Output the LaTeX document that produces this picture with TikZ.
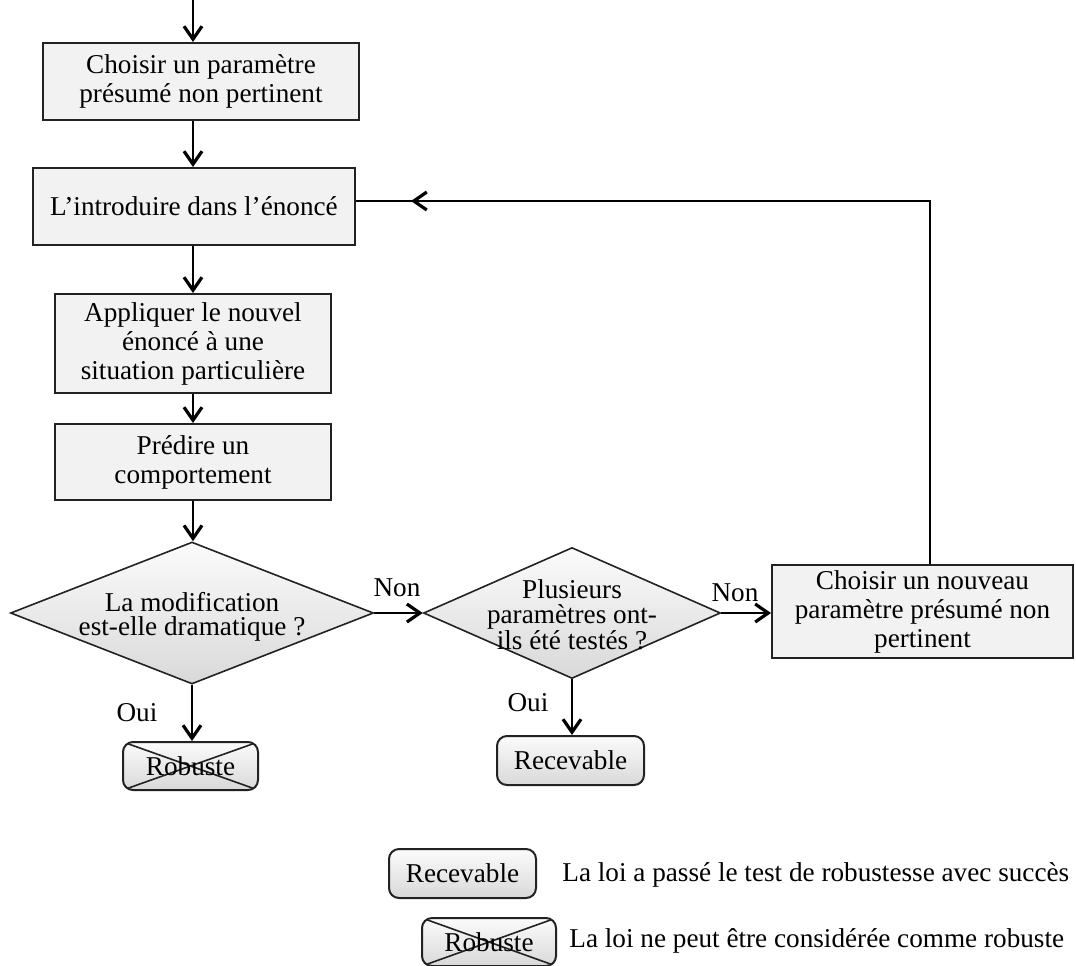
\documentclass[tikz,border=0pt]{standalone}
\usepackage{fontspec}
\setmainfont{Liberation Serif}
\usetikzlibrary{arrows.meta,shapes.geometric}
\definecolor{boite}{HTML}{F2F2F2}
\definecolor{trait}{HTML}{222222}
\newcommand{\txtbox}{\fontsize{13.6}{14.5}\selectfont}
\newcommand{\txtdia}{\fontsize{13.6}{12.3}\selectfont}
\tikzset{
  etape/.style={draw=trait,line width=1pt,fill=boite,align=center,inner sep=0pt},
  test/.style={diamond,draw=trait,line width=0.8pt,top color=gray!3,bottom color=gray!30,inner sep=0pt},
  issue/.style={draw=trait,line width=1pt,rounded corners=5pt,top color=gray!3,bottom color=gray!30,inner sep=0pt},
  % cross drawn corner to corner over the box
  barre/.style={path picture={%
    \draw[line width=0.8pt] (path picture bounding box.north west)--(path picture bounding box.south east)
      (path picture bounding box.south west)--(path picture bounding box.north east);}},
  fleche/.style={line width=0.8pt,-{Straight Barb[length=6.5pt,width=9pt,line width=1.6pt]}},
  ligne/.style={line width=0.8pt},
  note/.style={inner sep=0pt}
}

\begin{document}
\begin{tikzpicture}[x=0.5pt,y=-0.5pt,font=\txtbox]
  \useasboundingbox (0,0) rectangle (1076,965);
  \coordinate (depart) at (193,0);
  \node[etape,minimum width=158pt,minimum height=38.5pt] (choix) at (201,81.5)
    {Choisir un paramètre\\présumé non pertinent};
  \node[etape,minimum width=161pt,minimum height=38.5pt] (intro) at (194,206.5)
    {L’introduire dans l’énoncé};
  \node[etape,minimum width=138pt,minimum height=49.5pt] (appli) at (193,343.5)
    {Appliquer le nouvel\\énoncé à une\\situation particulière};
  \node[etape,minimum width=138pt,minimum height=38pt] (predire) at (193,462)
    {Prédire un\\comportement};
  \node[test,minimum width=181.5pt,minimum height=71pt,
    label={[align=center,font=\txtdia,yshift=-2pt]center:La modification\\est-elle dramatique ?}] (modif) at (192,613) {};
  \node[test,minimum width=148.5pt,minimum height=65.5pt,
    label={[align=center,font=\txtdia,yshift=-1pt]center:Plusieurs\\paramètres ont-\\ils été testés ?}] (plusieurs) at (572,613) {};
  \node[etape,minimum width=150.5pt,minimum height=46.5pt] (nouveau) at (922.5,611.5)
    {Choisir un nouveau\\paramètre présumé non\\pertinent};
  \node[issue,barre,minimum width=67.5pt,minimum height=24pt] (robuste) at (190.5,766) {Robuste};
  \node[issue,minimum width=73.5pt,minimum height=24.5pt] (recevable) at (570.5,760.5) {Recevable};

  \draw[fleche] (depart)--(choix.north -| depart);
  \draw[fleche] (choix.south -| depart)--(intro.north -| depart);
  \draw[fleche] (intro.south -| depart)--(appli.north -| depart);
  \draw[fleche] (appli.south -| depart)--(predire.north -| depart);
  \draw[fleche] (predire.south -| depart)--(modif.north -| depart);
  \draw[fleche] (modif.east)--(plusieurs.west);
  \draw[fleche] (plusieurs.east)--(plusieurs.east -| nouveau.west);
  \draw[fleche] (modif.south)--(modif.south |- robuste.north);
  \draw[fleche] (plusieurs.south)--(plusieurs.south |- recevable.north);
  \node (non1) at (397,588) {Non};
  \node (non2) at (735,593) {Non};
  \node (oui1) at (137,713) {Oui};
  \node (oui2) at (528,703) {Oui};

  % retour vers l'enonce
  \coordinate (montee) at (930,201);
  \coordinate (fb) at (548,201);
  \coordinate (fbtip) at (411,201);
  \draw[ligne] (nouveau.north -| montee)--(montee)--(intro.east |- montee);
  \draw[fleche] (fb)--(fbtip);

  % legende
  \node[issue,minimum width=73.5pt,minimum height=24.5pt] (legrec) at (462.5,873.5) {Recevable};
  \node[note,anchor=west] (legrectxt) at (562,875) {La loi a passé le test de robustesse avec succès};
  \node[issue,barre,minimum width=67pt,minimum height=24pt] (legrob) at (489,942) {Robuste};
  \node[note,anchor=west] (legrobtxt) at (569,941) {La loi ne peut être considérée comme robuste};
\end{tikzpicture}
\end{document}
